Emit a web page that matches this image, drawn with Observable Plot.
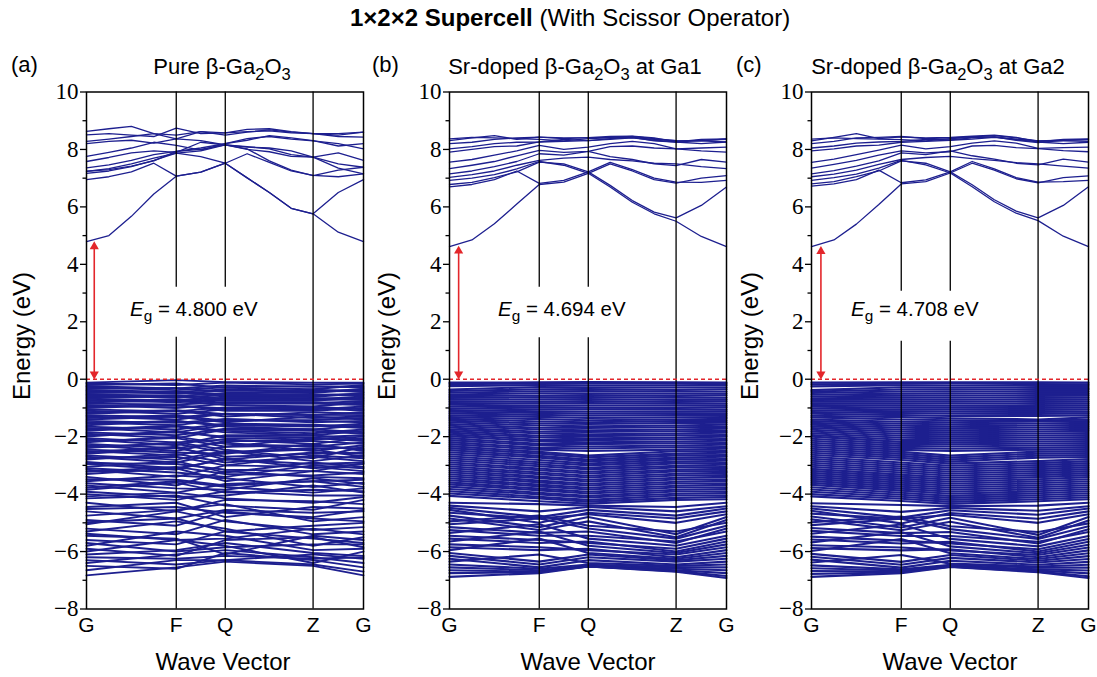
<!DOCTYPE html>
<html><head><meta charset="utf-8">
<script src="https://cdn.jsdelivr.net/npm/d3@7"></script>
<script src="https://cdn.jsdelivr.net/npm/@observablehq/plot@0.6"></script>
<style>
body{margin:0;background:#fff;}
#root{position:relative;width:1097px;height:677px;overflow:hidden;font-family:"Liberation Sans",Arial,sans-serif;color:#000;}
.abs{position:absolute;white-space:nowrap;line-height:1;}
sub{font-size:75%;vertical-align:-0.35em;line-height:0;}
</style></head><body><div id="root"></div>
<script>
// ---- axis / labels ----
const kPoints=[0,0.324,0.501,0.818,1];
const kLabels=["G","F","Q","Z","G"];
const condK=[0,0.081,0.162,0.243,0.324,0.4125,0.501,0.580,0.660,0.739,0.818,0.909,1];
const yTicks=[-8,-6,-4,-2,0,2,4,6,8,10];
const yMinor=[-7,-5,-3,-1,1,3,5,7,9];
const panelTags=["(a)","(b)","(c)"];
const titlePre=["Pure","Sr-doped","Sr-doped"];
const titlePost=[""," at Ga1"," at Ga2"];
const gapText=["4.800","4.694","4.708"];
const gapValue=[4.79,4.64,4.63];
const arrowK=[0.028,0.033,0.034];
const ruleBreakTop=[3.2,3.2,3.06];
const ruleBreakBottom=[1.46,1.44,1.32];

// ---- conduction bands: values at condK ----
const cbA=[
[4.79,5.00,5.67,6.45,7.07,7.21,7.52,7.01,6.50,5.95,5.76,5.12,4.79],
[6.95,7.05,7.22,7.52,7.07,7.21,7.52,7.85,7.55,7.25,7.10,7.05,7.15],
[7.17,7.25,7.40,7.62,7.87,7.75,7.52,7.01,6.50,5.95,5.76,6.50,6.95],
[7.24,7.33,7.50,7.70,7.87,7.95,8.16,8.00,7.92,7.76,7.73,7.50,7.38],
[7.36,7.46,7.62,7.82,7.93,8.05,8.20,8.38,8.45,8.36,8.30,8.20,8.02],
[7.58,7.72,7.88,7.95,7.90,8.25,8.16,8.10,8.02,7.82,7.73,7.88,7.62],
[7.76,7.90,8.05,8.25,8.14,7.98,8.20,8.32,8.48,8.40,8.31,8.12,8.20],
[8.20,8.28,8.32,8.22,8.37,8.31,8.16,8.08,8.05,7.95,7.73,7.35,7.15],
[8.28,8.36,8.45,8.55,8.37,8.62,8.50,8.60,8.68,8.60,8.55,8.45,8.43],
[8.51,8.55,8.50,8.45,8.74,8.55,8.58,8.70,8.72,8.62,8.55,8.50,8.60],
[8.63,8.72,8.80,8.55,8.50,8.62,8.58,8.62,8.65,8.58,8.55,8.55,8.60],
[7.24,7.30,7.42,7.60,7.93,8.00,8.16,8.02,7.60,7.28,7.09,7.28,7.38]];
const cbB=[
[4.62,4.85,5.41,6.10,6.78,6.86,7.17,6.69,6.16,5.76,5.50,4.97,4.62],
[6.70,6.78,6.95,7.25,6.82,6.92,7.22,6.75,6.22,5.82,5.62,6.05,6.69],
[6.78,6.85,7.02,7.22,7.56,7.50,7.22,7.55,7.30,7.00,6.86,6.85,6.92],
[6.92,7.00,7.12,7.32,7.58,7.45,7.17,7.50,7.25,6.95,6.83,7.00,7.09],
[7.03,7.12,7.25,7.45,7.62,7.70,7.73,7.65,7.60,7.52,7.50,7.40,7.33],
[7.15,7.25,7.40,7.58,7.85,7.80,7.93,7.75,7.65,7.50,7.44,7.65,7.56],
[7.33,7.45,7.58,7.78,7.97,7.90,7.93,8.10,8.12,8.05,8.02,7.95,7.91],
[7.56,7.65,7.80,7.95,8.14,8.00,8.08,8.20,8.28,8.20,8.02,8.05,8.08],
[7.91,8.00,8.10,8.12,8.26,8.28,8.31,8.35,8.40,8.32,8.26,8.20,8.26],
[8.02,8.10,8.20,8.25,8.26,8.35,8.31,8.38,8.42,8.35,8.31,8.30,8.26],
[8.20,8.25,8.35,8.40,8.43,8.38,8.41,8.42,8.45,8.38,8.31,8.30,8.37],
[8.31,8.40,8.48,8.35,8.43,8.40,8.41,8.45,8.46,8.40,8.26,8.35,8.37],
[8.37,8.42,8.40,8.38,8.35,8.30,8.38,8.40,8.42,8.30,8.26,8.32,8.35]];
const cbC=[
[4.62,4.85,5.40,6.08,6.80,6.88,7.18,6.70,6.18,5.78,5.52,4.98,4.62],
[6.72,6.80,6.95,7.28,6.84,6.94,7.22,6.77,6.25,5.85,5.62,6.05,6.70],
[6.80,6.88,7.05,7.25,7.60,7.52,7.22,7.58,7.32,7.02,6.86,6.88,6.92],
[6.92,7.02,7.14,7.35,7.62,7.46,7.18,7.52,7.28,6.98,6.84,7.02,7.08],
[7.05,7.14,7.28,7.48,7.65,7.72,7.76,7.68,7.62,7.54,7.50,7.42,7.35],
[7.15,7.26,7.42,7.60,7.88,7.82,7.95,7.78,7.66,7.52,7.46,7.66,7.56],
[7.35,7.48,7.62,7.80,7.95,7.88,7.92,8.12,8.14,8.06,8.03,7.96,7.92],
[7.55,7.66,7.82,7.98,8.15,8.02,8.10,8.22,8.30,8.22,8.04,8.06,8.08],
[7.95,8.02,8.12,8.15,8.25,8.28,8.32,8.36,8.42,8.34,8.26,8.20,8.25],
[8.05,8.12,8.22,8.26,8.28,8.35,8.33,8.40,8.44,8.36,8.30,8.30,8.28],
[8.20,8.28,8.40,8.42,8.45,8.38,8.40,8.44,8.48,8.40,8.30,8.32,8.35],
[8.30,8.42,8.55,8.38,8.44,8.40,8.42,8.46,8.50,8.42,8.26,8.35,8.37],
[8.36,8.40,8.38,8.36,8.34,8.30,8.38,8.42,8.44,8.32,8.24,8.32,8.34]];

// ---- valence bands: values at G, F, Q, Z, G ----
const vbA=[
[-0.12,-0.03,-0.10,-0.12,-0.12],[-0.15,-0.20,-0.12,-0.18,-0.15],[-0.20,-0.15,-0.30,-0.35,-0.20],
[-0.24,-0.32,-0.22,-0.26,-0.25],[-0.28,-0.38,-0.28,-0.24,-0.29],[-0.33,-0.30,-0.45,-0.48,-0.33],
[-0.37,-0.44,-0.36,-0.40,-0.37],[-0.40,-0.50,-0.40,-0.42,-0.41],[-0.44,-0.48,-0.52,-0.36,-0.45],
[-0.48,-0.45,-0.60,-0.62,-0.48],[-0.52,-0.58,-0.50,-0.54,-0.52],[-0.56,-0.65,-0.55,-0.55,-0.56],
[-0.60,-0.56,-0.68,-0.70,-0.60],[-0.64,-0.60,-0.75,-0.75,-0.64],[-0.68,-0.74,-0.64,-0.66,-0.68],
[-0.72,-0.80,-0.70,-0.70,-0.72],[-0.76,-0.70,-0.82,-0.84,-0.76],[-0.80,-0.75,-0.90,-0.95,-0.80],
[-0.85,-0.88,-0.80,-0.80,-0.85],[-0.90,-1.00,-0.85,-0.85,-0.90],[-0.95,-0.92,-1.02,-1.05,-0.95],
[-1.00,-0.90,-1.10,-1.10,-1.00],[-1.05,-1.12,-0.98,-0.96,-1.05],[-1.10,-1.20,-1.05,-1.00,-1.10],
[-1.15,-1.08,-1.22,-1.25,-1.15],[-1.20,-1.10,-1.30,-1.15,-1.20],[-1.25,-1.32,-1.20,-1.24,-1.25],
[-1.30,-1.40,-1.20,-1.35,-1.30],[-1.35,-1.25,-1.45,-1.42,-1.35],[-1.40,-1.30,-1.50,-1.30,-1.40],
[-1.45,-1.52,-1.38,-1.50,-1.45],[-1.50,-1.60,-1.40,-1.45,-1.50],[-1.55,-1.45,-1.60,-1.65,-1.55],
[-1.60,-1.45,-1.65,-1.75,-1.60],[-1.65,-1.75,-1.55,-1.58,-1.65],[-1.70,-1.85,-1.60,-1.60,-1.70],
[-1.75,-1.62,-1.80,-1.88,-1.75],[-1.80,-1.65,-1.85,-1.95,-1.80],[-1.85,-1.95,-1.72,-1.74,-1.85],
[-1.90,-2.05,-1.75,-1.80,-1.90],[-1.95,-1.85,-2.00,-2.02,-1.95],[-2.00,-1.80,-2.05,-2.10,-2.00],
[-2.05,-2.20,-2.10,-2.25,-2.05],[-2.10,-2.30,-1.95,-1.95,-2.10],[-2.15,-2.05,-2.35,-2.05,-2.15],
[-2.20,-2.00,-2.25,-2.35,-2.20],[-2.25,-2.40,-2.20,-2.50,-2.30],
[-2.30,-2.50,-2.15,-2.15,-2.25],[-2.35,-2.25,-2.55,-2.40,-2.40],
[-2.40,-2.20,-2.45,-2.75,-2.35],[-2.45,-2.55,-2.60,-2.25,-2.50],[-2.50,-2.65,-2.35,-2.30,-2.45],
[-2.55,-2.35,-2.80,-2.55,-2.60],[-2.60,-2.40,-2.70,-2.60,-2.55],[-2.65,-2.80,-2.50,-2.85,-2.65],
[-2.70,-2.90,-2.55,-2.45,-2.70],[-2.75,-2.70,-3.00,-2.65,-2.75],[-2.80,-2.60,-2.90,-2.70,-2.85],
[-2.88,-3.10,-2.80,-2.95,-2.90],[-2.92,-2.95,-3.15,-3.20,-2.92],
[-2.95,-3.15,-2.75,-3.10,-2.95],[-3.05,-2.85,-3.25,-2.90,-3.05],[-3.10,-3.25,-3.40,-3.00,-3.10],
[-3.15,-3.40,-3.00,-3.05,-3.20],[-3.22,-3.05,-3.30,-3.35,-3.25],
[-3.30,-3.10,-3.55,-3.20,-3.30],[-3.40,-3.70,-3.20,-3.40,-3.45],[-3.48,-3.50,-3.70,-3.55,-3.50],
[-3.55,-3.35,-3.45,-3.75,-3.60],[-3.62,-3.80,-3.85,-3.45,-3.65],
[-3.70,-3.95,-3.65,-3.55,-3.75],[-3.78,-3.55,-3.75,-3.95,-3.80],[-3.85,-3.60,-3.95,-3.85,-3.90],
[-3.92,-4.10,-4.05,-3.70,-3.95],
[-4.00,-4.20,-3.90,-4.05,-4.05],[-4.08,-3.95,-4.15,-4.30,-4.10],
[-4.15,-4.05,-4.40,-4.55,-4.20],[-4.30,-4.60,-4.20,-4.25,-4.35],[-4.45,-4.30,-4.80,-4.45,-4.50],
[-4.52,-4.45,-4.65,-4.80,-4.55],
[-4.60,-4.85,-4.55,-4.65,-4.60],[-4.75,-4.55,-4.35,-4.95,-4.80],[-4.90,-5.10,-4.60,-4.85,-4.95],
[-4.98,-4.85,-5.30,-5.10,-5.00],
[-5.05,-4.60,-4.95,-5.25,-5.15],[-5.20,-5.40,-4.90,-5.40,-5.30],[-5.30,-4.95,-5.20,-5.80,-5.50],
[-5.38,-5.60,-5.55,-5.20,-5.40],
[-5.45,-5.55,-6.10,-5.45,-5.60],[-5.60,-5.75,-5.30,-5.55,-5.70],[-5.80,-5.30,-5.45,-5.95,-5.90],
[-5.70,-6.00,-5.85,-5.75,-5.75],
[-5.90,-6.15,-5.60,-5.50,-5.85],[-6.00,-5.60,-5.80,-6.40,-6.00],[-6.10,-5.95,-5.70,-6.05,-6.15],
[-6.20,-6.25,-6.15,-6.25,-6.20],
[-6.30,-6.45,-6.30,-6.10,-6.25],[-6.40,-6.10,-5.95,-6.20,-6.40],[-6.50,-6.60,-6.05,-6.30,-6.55],
[-6.65,-6.30,-6.30,-6.45,-6.70],[-6.83,-6.55,-6.35,-6.50,-6.83]];
const vbB=[
[-0.12,-0.11,-0.10,-0.11,-0.12],[-0.17,-0.15,-0.14,-0.16,-0.17],[-0.24,-0.20,-0.21,-0.22,-0.22],
[-0.36,-0.27,-0.28,-0.29,-0.29],[-0.41,-0.35,-0.34,-0.37,-0.35],[-0.47,-0.42,-0.41,-0.43,-0.43],
[-0.53,-0.49,-0.49,-0.50,-0.50],[-0.59,-0.57,-0.55,-0.58,-0.56],[-0.65,-0.63,-0.62,-0.64,-0.64],
[-0.71,-0.70,-0.69,-0.72,-0.71],[-0.77,-0.78,-0.76,-0.79,-0.77],[-0.83,-0.84,-0.83,-0.85,-0.85],
[-0.89,-0.92,-0.91,-0.92,-0.92],[-0.95,-0.98,-0.99,-1.00,-0.98],[-1.01,-1.05,-1.05,-1.06,-1.06],
[-1.07,-1.12,-1.13,-1.13,-1.12],[-1.13,-1.17,-1.20,-1.19,-1.19],[-1.19,-1.24,-1.27,-1.25,-1.25],
[-1.26,-1.31,-1.35,-1.33,-1.32],[-1.32,-1.39,-1.43,-1.40,-1.38],
[-1.38,-1.47,-1.50,-1.46,-1.45],[-1.44,-1.54,-1.56,-1.53,-1.51],
[-1.50,-1.61,-1.64,-1.61,-1.58],[-1.56,-1.69,-1.70,-1.67,-1.66],[-1.62,-1.75,-1.78,-1.75,-1.72],
[-1.68,-1.83,-1.84,-1.81,-1.80],[-1.74,-1.89,-1.92,-1.89,-1.86],[-1.80,-1.97,-1.98,-1.95,-1.94],
[-1.86,-2.03,-2.06,-2.03,-2.00],[-1.92,-2.11,-2.12,-2.09,-2.08],[-1.98,-2.17,-2.20,-2.17,-2.14],
[-2.05,-2.25,-2.26,-2.23,-2.22],[-2.12,-2.31,-2.34,-2.31,-2.28],[-2.19,-2.39,-2.41,-2.37,-2.36],
[-2.26,-2.45,-2.50,-2.45,-2.42],[-2.33,-2.53,-2.66,-2.51,-2.50],[-2.40,-2.59,-2.72,-2.59,-2.56],
[-2.47,-2.67,-2.80,-2.65,-2.64],[-2.54,-2.73,-2.86,-2.73,-2.70],[-2.61,-2.81,-2.94,-2.79,-2.78],
[-2.68,-2.89,-3.00,-2.87,-2.84],[-2.75,-2.96,-3.08,-2.93,-2.92],[-2.82,-3.03,-3.14,-3.01,-2.98],
[-2.89,-3.11,-3.22,-3.07,-3.06],[-2.96,-3.17,-3.28,-3.15,-3.12],[-3.03,-3.25,-3.36,-3.21,-3.20],
[-3.10,-3.31,-3.42,-3.29,-3.26],[-3.17,-3.39,-3.50,-3.35,-3.34],[-3.24,-3.45,-3.56,-3.43,-3.40],
[-3.31,-3.53,-3.64,-3.49,-3.48],[-3.38,-3.59,-3.70,-3.57,-3.54],[-3.45,-3.67,-3.78,-3.63,-3.62],
[-3.52,-3.73,-3.84,-3.71,-3.68],[-3.59,-3.81,-3.92,-3.77,-3.76],[-3.66,-3.87,-3.98,-3.85,-3.82],
[-3.74,-3.95,-4.06,-3.91,-3.90],[-3.82,-4.01,-4.12,-3.99,-3.96],[-3.90,-4.09,-4.20,-4.05,-4.04],
[-3.98,-4.15,-4.26,-4.13,-4.10],[-4.06,-4.25,-4.33,-4.20,-4.18],
[-4.30,-4.35,-4.40,-4.45,-4.30],[-4.40,-4.60,-4.45,-4.60,-4.42],[-4.48,-4.80,-4.55,-4.75,-4.50],
[-4.55,-5.00,-4.65,-4.85,-4.60],[-4.65,-4.85,-4.70,-5.00,-4.70],[-4.75,-5.15,-4.80,-5.40,-4.80],
[-4.85,-5.25,-4.95,-5.50,-4.90],[-4.95,-4.75,-5.10,-5.30,-5.00],[-5.05,-4.85,-5.20,-5.55,-5.10],
[-5.15,-5.35,-5.30,-5.70,-5.20],[-5.25,-5.45,-5.45,-5.65,-5.30],[-5.35,-5.05,-5.55,-5.80,-5.45],
[-5.45,-5.60,-5.70,-5.90,-5.55],[-5.55,-5.70,-5.65,-6.00,-5.65],[-5.65,-5.30,-5.80,-6.05,-5.75],
[-5.75,-5.85,-5.95,-6.10,-5.85],[-5.85,-5.95,-5.90,-6.20,-5.95],[-5.95,-5.55,-6.05,-6.25,-6.05],
[-6.05,-6.35,-6.10,-6.30,-6.15],[-6.15,-6.45,-6.20,-6.35,-6.25],[-6.25,-6.55,-6.30,-6.45,-6.35],
[-6.35,-6.10,-6.40,-6.50,-6.45],[-6.45,-6.60,-6.45,-6.55,-6.55],[-6.55,-6.65,-6.50,-6.60,-6.65],
[-6.65,-6.70,-6.52,-6.65,-6.75],[-6.75,-6.72,-6.52,-6.68,-6.85],[-6.88,-6.75,-6.52,-6.70,-6.92]];
const vbC=[
[-0.12,-0.11,-0.11,-0.11,-0.12],[-0.18,-0.16,-0.15,-0.17,-0.18],[-0.25,-0.21,-0.22,-0.23,-0.24],
[-0.38,-0.28,-0.29,-0.30,-0.31],[-0.43,-0.36,-0.35,-0.37,-0.37],[-0.48,-0.43,-0.42,-0.44,-0.44],
[-0.54,-0.50,-0.49,-0.51,-0.51],[-0.60,-0.57,-0.56,-0.58,-0.57],[-0.66,-0.64,-0.63,-0.65,-0.64],
[-0.72,-0.71,-0.70,-0.72,-0.71],[-0.78,-0.78,-0.77,-0.79,-0.78],[-0.84,-0.85,-0.84,-0.86,-0.85],
[-0.90,-0.92,-0.92,-0.93,-0.92],[-0.96,-0.99,-0.99,-1.00,-0.99],[-1.02,-1.06,-1.06,-1.07,-1.06],
[-1.08,-1.12,-1.13,-1.14,-1.13],[-1.14,-1.18,-1.20,-1.21,-1.19],[-1.20,-1.25,-1.28,-1.28,-1.26],
[-1.27,-1.32,-1.36,-1.40,-1.33],[-1.33,-1.40,-1.43,-1.44,-1.40],
[-1.40,-1.48,-1.50,-1.47,-1.46],[-1.46,-1.55,-1.57,-1.54,-1.52],
[-1.52,-1.62,-1.64,-1.61,-1.59],[-1.58,-1.69,-1.71,-1.68,-1.66],[-1.64,-1.76,-1.78,-1.75,-1.73],
[-1.70,-1.83,-1.85,-1.82,-1.80],[-1.76,-1.90,-1.92,-1.89,-1.87],[-1.82,-1.97,-1.99,-1.96,-1.94],
[-1.88,-2.04,-2.06,-2.03,-2.01],[-1.94,-2.11,-2.13,-2.10,-2.08],[-2.00,-2.18,-2.20,-2.17,-2.15],
[-2.07,-2.25,-2.27,-2.24,-2.22],[-2.14,-2.32,-2.34,-2.31,-2.29],[-2.21,-2.39,-2.42,-2.38,-2.36],
[-2.28,-2.46,-2.50,-2.45,-2.43],[-2.35,-2.53,-2.66,-2.52,-2.50],[-2.42,-2.60,-2.73,-2.59,-2.57],
[-2.49,-2.67,-2.80,-2.66,-2.64],[-2.56,-2.74,-2.87,-2.73,-2.71],[-2.63,-2.81,-2.94,-2.85,-2.78],
[-2.70,-2.90,-3.01,-2.92,-2.85],[-2.77,-2.97,-3.08,-2.99,-2.92],[-2.84,-3.04,-3.15,-3.06,-2.99],
[-2.91,-3.11,-3.22,-3.13,-3.06],[-2.98,-3.18,-3.29,-3.20,-3.13],[-3.05,-3.25,-3.36,-3.27,-3.20],
[-3.12,-3.32,-3.43,-3.34,-3.27],[-3.19,-3.39,-3.50,-3.41,-3.34],[-3.26,-3.46,-3.57,-3.48,-3.41],
[-3.33,-3.53,-3.64,-3.55,-3.48],[-3.40,-3.60,-3.71,-3.62,-3.55],[-3.47,-3.67,-3.78,-3.69,-3.62],
[-3.54,-3.74,-3.85,-3.76,-3.69],[-3.61,-3.81,-3.92,-3.83,-3.76],[-3.68,-3.88,-3.99,-3.90,-3.83],
[-3.76,-3.95,-4.06,-3.97,-3.90],[-3.84,-4.02,-4.13,-4.04,-3.97],[-3.92,-4.09,-4.20,-4.11,-4.04],
[-4.00,-4.16,-4.27,-4.18,-4.11],[-4.08,-4.24,-4.34,-4.25,-4.18],
[-4.32,-4.38,-4.42,-4.40,-4.30],[-4.42,-4.62,-4.48,-4.58,-4.42],[-4.50,-4.82,-4.56,-4.72,-4.50],
[-4.58,-5.02,-4.66,-4.86,-4.60],[-4.68,-4.86,-4.72,-5.00,-4.70],[-4.78,-5.16,-4.82,-5.42,-4.80],
[-4.88,-5.26,-4.96,-5.52,-4.92],[-4.98,-4.78,-5.12,-5.32,-5.02],[-5.08,-4.86,-5.22,-5.56,-5.12],
[-5.18,-5.36,-5.32,-5.72,-5.22],[-5.28,-5.46,-5.46,-5.66,-5.32],[-5.38,-5.06,-5.56,-5.82,-5.46],
[-5.48,-5.62,-5.72,-5.92,-5.56],[-5.58,-5.72,-5.66,-6.00,-5.66],[-5.68,-5.32,-5.82,-6.06,-5.76],
[-5.78,-5.86,-5.96,-6.12,-5.86],[-5.88,-5.96,-5.92,-6.20,-5.96],[-5.98,-5.56,-6.06,-6.26,-6.06],
[-6.08,-6.36,-6.12,-6.32,-6.16],[-6.18,-6.46,-6.22,-6.38,-6.26],[-6.28,-6.56,-6.32,-6.46,-6.36],
[-6.38,-6.12,-6.42,-6.52,-6.46],[-6.48,-6.62,-6.46,-6.56,-6.56],[-6.58,-6.66,-6.50,-6.62,-6.66],
[-6.68,-6.70,-6.52,-6.66,-6.76],[-6.78,-6.72,-6.53,-6.70,-6.86],[-6.88,-6.75,-6.54,-6.72,-6.92]];

const condBands=[cbA,cbB,cbC];
const valBands=[vbA,vbB,vbC];

// ---- layout (positions only) ----
const panelLeft=[0,363,725];
const tagLeft=[11,372,736];
const titleCenter=[222,575,938];
const gapLeft=[130,498,851];
const yLabelX=[22,387,750];
const xLabelCenter=[223,588,950];
const vbWidth=[1.9,2.1,2.1];

const root=document.getElementById("root");
function addDiv(html,css){const d=document.createElement("div");d.className="abs";d.innerHTML=html;Object.assign(d.style,css);root.appendChild(d);return d;}

addDiv('<b>1×2×2 Supercell</b> (With Scissor Operator)',{left:"350px",top:"6px",fontSize:"24px"});

const BLUE="#1d1f8f", RED="#e3262b";
for(let i=0;i<3;i++){
  const crow=[], vrow=[];
  condBands[i].forEach((b,j)=>b.forEach((e,m)=>crow.push({k:condK[m],e,band:"c"+j})));
  valBands[i].forEach((b,j)=>b.forEach((e,m)=>vrow.push({k:kPoints[m],e,band:"v"+j})));
  const segs=[
    {k:kPoints[1],y1:10,y2:ruleBreakTop[i]},{k:kPoints[1],y1:ruleBreakBottom[i],y2:-8},
    {k:kPoints[2],y1:10,y2:ruleBreakTop[i]},{k:kPoints[2],y1:ruleBreakBottom[i],y2:-8},
    {k:kPoints[3],y1:10,y2:-8}];
  const svg=Plot.plot({
    width:365,height:637,marginLeft:86,marginRight:2,marginTop:51.5,marginBottom:68.5,
    x:{domain:[0,1]},y:{domain:[-8,10]},
    style:{background:"transparent",fontFamily:"Liberation Serif",fontSize:"23px",overflow:"visible",color:"#000"},
    marks:[
      Plot.line(vrow,{x:"k",y:"e",z:"band",stroke:BLUE,strokeWidth:vbWidth[i]}),
      Plot.line(crow,{x:"k",y:"e",z:"band",stroke:BLUE,strokeWidth:1.3}),
      Plot.ruleX(segs,{x:"k",y1:"y1",y2:"y2",stroke:"#000",strokeWidth:1.3}),
      Plot.ruleY([0],{stroke:RED,strokeWidth:1.4,strokeDasharray:"4,3"}),
      Plot.ruleX([arrowK[i]],{y1:0.1,y2:gapValue[i]-0.15,stroke:RED,strokeWidth:1.6}),
      Plot.dot([gapValue[i]],{x:()=>arrowK[i],y:d=>d,symbol:"triangle",r:3.4,fill:RED,stroke:"none",dy:5}),
      Plot.dot([0],{x:()=>arrowK[i],y:d=>d,symbol:"triangle",r:3.4,fill:RED,stroke:"none",rotate:180,dy:-5}),
      Plot.frame({stroke:"#000",strokeWidth:1.5}),
      Plot.axisY(yTicks,{tickSize:6,tickPadding:2,fontSize:23,fontFamily:"Liberation Serif",label:null,strokeWidth:1.3}),
      Plot.axisY(yMinor,{tickSize:3.5,tickFormat:()=>"",label:null,strokeWidth:1.3}),
      Plot.axisX(kPoints,{tickSize:0,tickPadding:8,tickFormat:d=>kLabels[kPoints.indexOf(d)],fontSize:21,fontFamily:"Liberation Sans",label:null})
    ]
  });
  const wrap=document.createElement("div");
  wrap.className="abs";
  Object.assign(wrap.style,{left:panelLeft[i]+"px",top:"40px"});
  wrap.appendChild(svg);
  root.appendChild(wrap);

  addDiv(panelTags[i],{left:tagLeft[i]+"px",top:"54px",fontSize:"22px"});
  addDiv(`${titlePre[i]} β-Ga<sub>2</sub>O<sub>3</sub>${titlePost[i]}`,{left:titleCenter[i]+"px",top:"56px",fontSize:"22px",transform:"translateX(-50%)"});
  addDiv(`<i>E</i><sub>g</sub> = ${gapText[i]} eV`,{left:gapLeft[i]+"px",top:"299px",fontSize:"20.5px"});
  addDiv("Energy (eV)",{left:yLabelX[i]+"px",top:"336px",fontSize:"24px",transform:"translate(-50%,-50%) rotate(-90deg)"});
  addDiv("Wave Vector",{left:xLabelCenter[i]+"px",top:"650px",fontSize:"24px",transform:"translateX(-50%)"});
}
</script></body></html>
